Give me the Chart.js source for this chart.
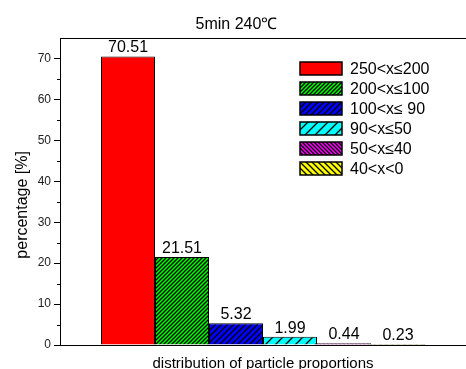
<!DOCTYPE html>
<html>
  <head>
    <meta charset="utf-8">
    <title>5min 240℃</title>
    <script src="https://cdn.jsdelivr.net/npm/chart.js"></script>
    <style>
      body { margin: 0; background: #fff; }
    </style>
  </head>
  <body>
	<div style="width:466px; height:369px">
		<canvas id="DistChart"></canvas>
	</div>
    <script>
	var rangeLabels = ['250<x≤200', '200<x≤100', '100<x≤ 90', '90<x≤50', '50<x≤40', '40<x<0'];
	var percentValues = [70.51, 21.51, 5.32, 1.99, 0.44, 0.23];
	var yTicks = [0, 10, 20, 30, 40, 50, 60, 70];

	var fillColors = ['#ff0000', '#00ff00', '#0000ff', '#00ffff', '#ff00ff', '#ffff00'];
	// hatch: [spacing, direction] ; 0 = plain fill
	var hatches = [[0, 0], [4, 1], [6, 1], [10, 1], [4, -1], [6, -1]];

	var FONT = '"Liberation Sans", Arial, sans-serif';

	function makeHatch(color, size, dir) {
		if (!size) return color;
		var c = document.createElement('canvas');
		c.width = size; c.height = size;
		var g = c.getContext('2d');
		g.fillStyle = color;
		g.fillRect(0, 0, size, size);
		g.strokeStyle = '#000';
		g.lineWidth = 1.3;
		g.beginPath();
		if (dir > 0) {
			g.moveTo(-1, size + 1); g.lineTo(size + 1, -1);
			g.moveTo(-1, 1); g.lineTo(1, -1);
			g.moveTo(size - 1, size + 1); g.lineTo(size + 1, size - 1);
		} else {
			g.moveTo(-1, -1); g.lineTo(size + 1, size + 1);
			g.moveTo(size - 1, -1); g.lineTo(size + 1, 1);
			g.moveTo(-1, size - 1); g.lineTo(1, size + 1);
		}
		g.stroke();
		return document.createElement('canvas').getContext('2d').createPattern(c, 'repeat');
	}

	var fills = fillColors.map(function(col, i) {
		return makeHatch(col, hatches[i][0], hatches[i][1]);
	});

	var datasets = rangeLabels.map(function(lbl, i) {
		return {
			label : lbl,
			data : [percentValues[i]],
			backgroundColor : fills[i],
			borderColor : '#000',
			borderWidth : 1,
			barPercentage : 1.0,
			categoryPercentage : 0.798
		};
	});

	const extras = {
		id : 'extras',
		afterDatasetsDraw : function(chart) {
			var ctx = chart.ctx;
			ctx.save();
			ctx.fillStyle = '#000';
			ctx.font = '16px ' + FONT;
			ctx.textAlign = 'center';
			ctx.textBaseline = 'alphabetic';
			chart.data.datasets.forEach(function(ds, i) {
				var bar = chart.getDatasetMeta(i).data[0];
				ctx.fillText(ds.data[0].toFixed(2), bar.x, bar.y - 4);
			});
			ctx.restore();
		},
		afterDraw : function(chart) {
			var ctx = chart.ctx, area = chart.chartArea, y = chart.scales.y;
			ctx.save();
			// top frame line
			ctx.strokeStyle = '#000';
			ctx.lineWidth = 1;
			ctx.beginPath();
			ctx.moveTo(area.left, area.top + 0.5);
			ctx.lineTo(chart.width, area.top + 0.5);
			ctx.stroke();
			// minor ticks
			ctx.beginPath();
			for (var v = 5; v < 75; v += 10) {
				var py = Math.round(y.getPixelForValue(v)) + 0.5;
				ctx.moveTo(area.left - 3, py);
				ctx.lineTo(area.left, py);
			}
			ctx.stroke();
			// legend
			ctx.font = '16px ' + FONT;
			ctx.textAlign = 'left';
			ctx.textBaseline = 'middle';
			chart.data.datasets.forEach(function(ds, i) {
				var top = 62 + i * 20;
				ctx.fillStyle = ds.backgroundColor;
				ctx.fillRect(300, top, 42, 13);
				ctx.lineWidth = 1.5;
				ctx.strokeStyle = '#000';
				ctx.strokeRect(300, top, 42, 13);
				ctx.fillStyle = '#000';
				ctx.fillText(ds.label, 350, top + 7.5);
			});
			ctx.restore();
		}
	};

	const config = {
		type : 'bar',
		data : { labels : [''], datasets : datasets },
		options : {
			responsive : true,
			maintainAspectRatio : false,
			animation : false,
			layout : { padding : { left : 0, top : 0, bottom : 0, right : -7 } },
			plugins : {
				legend : { display : false },
				tooltip : { enabled : false },
				title : {
					display : true,
					text : '5min 240℃',
					color : '#000',
					font : { family : FONT, size : 16, weight : 'normal' },
					padding : { top : 15, bottom : 3.8 }
				}
			},
			scales : {
				x : {
					grid : { display : false },
					border : { display : true, color : '#000', width : 1 },
					ticks : { display : false },
					title : {
						display : true,
						text : 'distribution of particle proportions',
						color : '#000',
						font : { family : FONT, size : 15 },
						padding : { top : 0, bottom : -4 }
					},
					afterFit : function(s) { s.height = 24; }
				},
				y : {
					min : 0,
					max : 75,
					afterBuildTicks : function(s) {
						s.ticks = yTicks.map(function(v) { return { value : v }; });
					},
					grid : { drawOnChartArea : false, drawTicks : true, tickLength : 6, color : '#000' },
					border : { display : true, color : '#000', width : 1 },
					ticks : {
						color : '#222',
						padding : 3,
						font : { family : FONT, size : 12 }
					},
					title : {
						display : true,
						// trailing spaces push the label a little below the axis middle
						text : 'percentage [%]      ',
						color : '#000',
						font : { family : FONT, size : 16 },
						padding : { top : 13, bottom : 0 }
					},
					afterFit : function(s) { s.width = 60; }
				}
			}
		},
		plugins : [extras]
	};

	new Chart(document.getElementById('DistChart'), config);
    </script>
  </body>
</html>
